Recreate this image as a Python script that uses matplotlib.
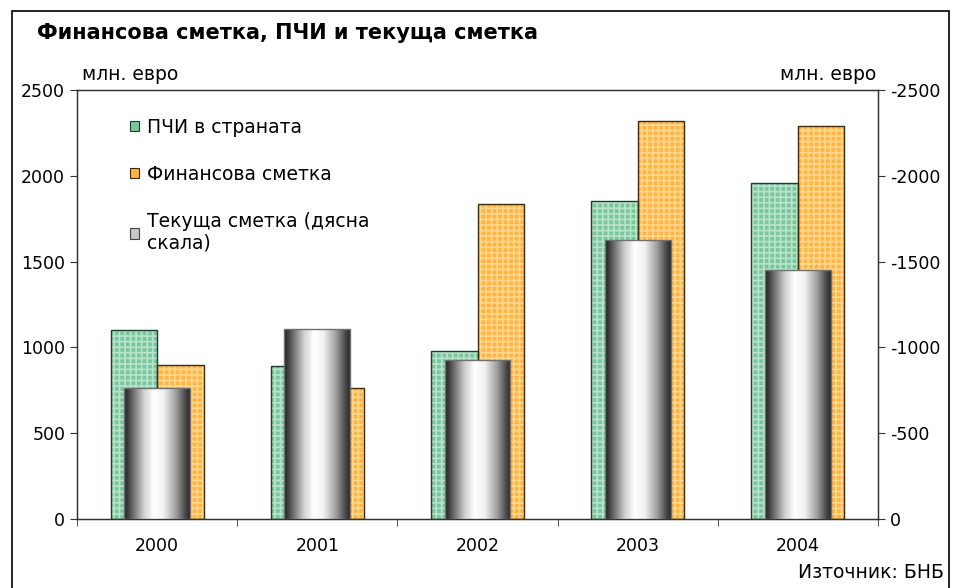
import numpy as np
import matplotlib.pyplot as plt
from matplotlib.colors import LinearSegmentedColormap
from matplotlib.patches import Patch, Rectangle

plt.rcParams['font.family'] = ['DejaVu Sans']
plt.rcParams['axes.unicode_minus'] = False
plt.rcParams['hatch.linewidth'] = 1.3

years = ['2000', '2001', '2002', '2003', '2004']
fdi = [1102, 893, 980, 1853, 1958]            # ПЧИ в страната
fin_account = [897, 763, 1836, 2319, 2290]     # Финансова сметка
cur_account = [-763, -1107, -927, -1626, -1451]  # Текуща сметка (дясна скала)

yticks_left = [0, 500, 1000, 1500, 2000, 2500]
yticks_right = [0, -500, -1000, -1500, -2000, -2500]

green = '#79c69c'
green_h = '#b6e2c9'
orange = '#ffb443'
orange_h = '#ffd68a'

fig = plt.figure(figsize=(9.6, 5.88), dpi=100)
ax = fig.add_axes([77 / 960, 69 / 588, 801 / 960, 429 / 588])

x = np.arange(len(years))
w = 0.29
# patterned bars: fill + light hatch, then a dark outline on top
ax.bar(x - w / 2, fdi, w, color=green, edgecolor=green_h, hatch='+++', linewidth=0, zorder=2)
ax.bar(x - w / 2, fdi, w, fill=False, edgecolor='#1d3a2a', linewidth=1.0, zorder=3)
ax.bar(x + w / 2, fin_account, w, color=orange, edgecolor=orange_h, hatch='+++', linewidth=0, zorder=2)
ax.bar(x + w / 2, fin_account, w, fill=False, edgecolor='#3a2a10', linewidth=1.0, zorder=3)

ax.set_xlim(-0.5, len(years) - 0.5)
ax.set_ylim(0, 2500)
ax.set_yticks(yticks_left)
ax.set_xticks(x)
ax.set_xticklabels(years)
ax.set_xticks(np.arange(len(years) + 1) - 0.5, minor=True)
ax.tick_params(axis='x', which='major', length=0, pad=13, labelsize=12.5)
ax.tick_params(axis='x', which='minor', length=5, direction='out', color='#333333')
ax.tick_params(axis='y', length=5, direction='out', labelsize=12.5, color='#333333')
for s in ax.spines.values():
    s.set_color('#333333')
    s.set_linewidth(1.0)

# right scale for the current account, inverted so deficits rise
ax2 = ax.twinx()
ax2.set_ylim(0, -2500)
ax2.set_yticks(yticks_right)
ax2.tick_params(axis='y', length=5, direction='out', labelsize=12.5, color='#333333')
for s in ax2.spines.values():
    s.set_color('#333333')

cyl = LinearSegmentedColormap.from_list('cyl', [
    (0.0, '#1e1e1e'), (0.1, '#575757'), (0.3, '#cfcfcf'), (0.45, '#ffffff'),
    (0.6, '#f2f2f2'), (0.8, '#9a9a9a'), (0.93, '#4a4a4a'), (1.0, '#2a2a2a')])
grad = np.linspace(0, 1, 256).reshape(1, -1)
cw = 0.41
bars = ax2.bar(x, cur_account, cw, color='none', edgecolor='#707070', linewidth=1.0, zorder=4)
for b, xi, v in zip(bars, x, cur_account):
    im = ax2.imshow(grad, cmap=cyl, aspect='auto', extent=(xi - cw / 2, xi + cw / 2, v, 0),
                    zorder=3, interpolation='bilinear')
    im.set_clip_path(b)
ax2.set_xlim(-0.5, len(years) - 0.5)
ax2.set_ylim(0, -2500)

handles = [
    Patch(facecolor=green, edgecolor='#1d3a2a', linewidth=0.8),
    Patch(facecolor=orange, edgecolor='#3a2a10', linewidth=0.8),
    Patch(facecolor='#c8c8c8', edgecolor='#444444', linewidth=0.8),
]
labels = ['ПЧИ в страната', 'Финансова сметка', 'Текуща сметка (дясна\nскала)']
ax2.legend(handles, labels, loc='upper left', bbox_to_anchor=(0.045, 0.975), frameon=False,
           fontsize=13.5, handlelength=0.5, handleheight=0.5, handletextpad=0.4,
           labelspacing=1.5)

fig.text(37 / 960, 1 - 33 / 588, 'Финансова сметка, ПЧИ и текуща сметка',
         fontsize=15, fontweight='bold', va='center', ha='left')
fig.text(82 / 960, 1 - 75 / 588, 'млн. евро', fontsize=13.5, va='center', ha='left')
fig.text(876 / 960, 1 - 75 / 588, 'млн. евро', fontsize=13.5, va='center', ha='right')
fig.text(944 / 960, 1 - 573 / 588, 'Източник: БНБ', fontsize=13.5, va='center', ha='right')

fig.patches.append(Rectangle((12 / 960, -0.02), 937 / 960, 1.02 - 11 / 588,
                             transform=fig.transFigure, fill=False,
                             edgecolor='black', linewidth=1.2))

fig.savefig('out.png', dpi=100)
